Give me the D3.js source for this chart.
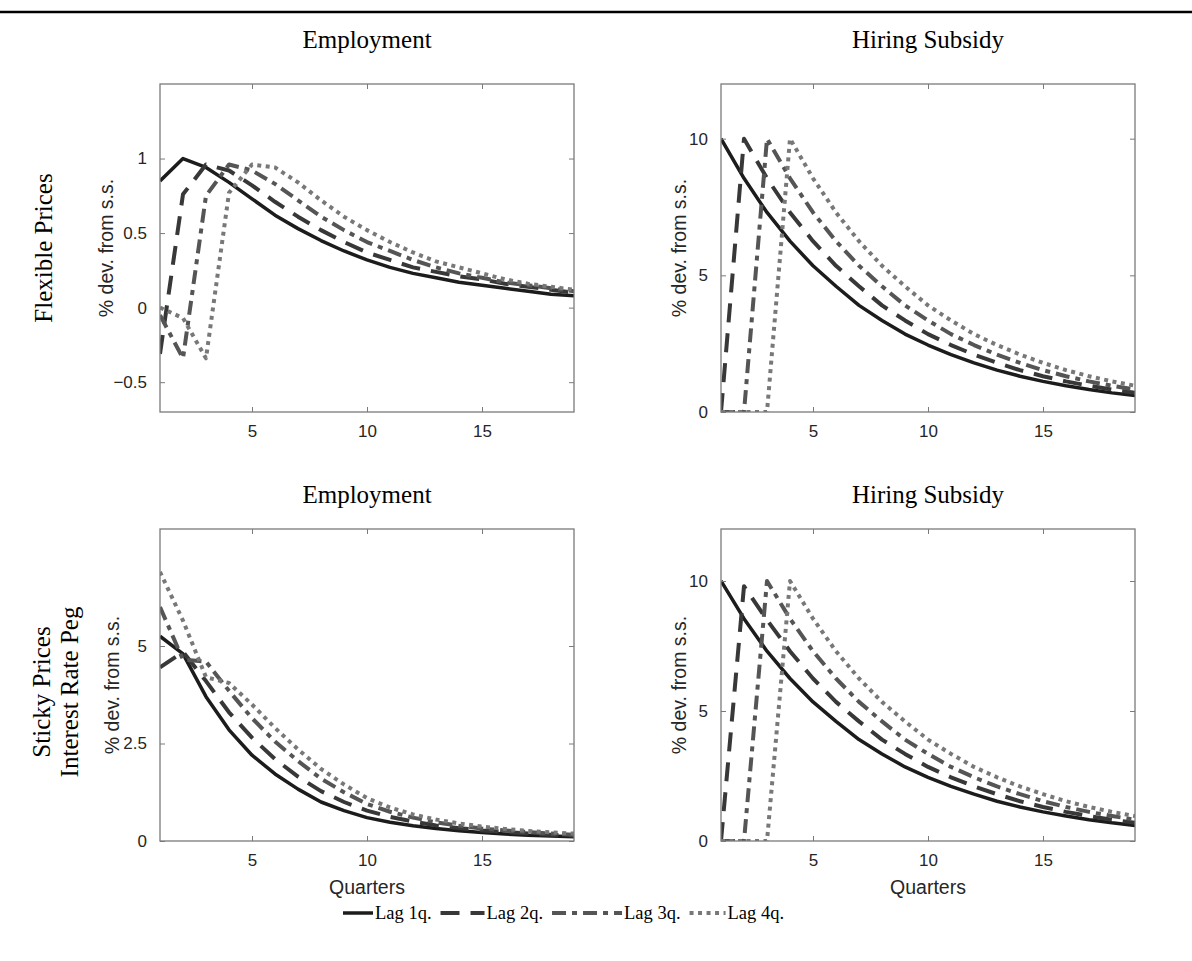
<!DOCTYPE html>
<html>
<head>
<meta charset="utf-8">
<script src="https://cdn.jsdelivr.net/npm/d3@7"></script>
<style>
  body { margin: 0; background: #fff; }
  svg { display: block; }
</style>
</head>
<body>
<div id="chart"></div>
<script>
// quarters on the x axis
var quarters = [1, 2, 3, 4, 5, 6, 7, 8, 9, 10, 11, 12, 13, 14, 15, 16, 17, 18, 19];
var xTicks = [5, 10, 15];

var seriesNames = ["Lag 1q.", "Lag 2q.", "Lag 3q.", "Lag 4q."];
var colTitles = ["Employment", "Hiring Subsidy"];

// flexible prices, employment
var empFlexLag1 = [0.85, 1.00, 0.94, 0.84, 0.73, 0.62, 0.53, 0.45, 0.38, 0.32, 0.27, 0.23, 0.20, 0.17, 0.15, 0.13, 0.11, 0.09, 0.08];
var empFlexLag2 = [-0.31, 0.76, 0.96, 0.92, 0.82, 0.71, 0.61, 0.52, 0.44, 0.37, 0.32, 0.27, 0.24, 0.21, 0.19, 0.16, 0.14, 0.12, 0.10];
var empFlexLag3 = [-0.05, -0.34, 0.75, 0.96, 0.92, 0.83, 0.72, 0.61, 0.52, 0.44, 0.38, 0.32, 0.27, 0.23, 0.20, 0.17, 0.15, 0.13, 0.11];
var empFlexLag4 = [0.00, -0.07, -0.34, 0.77, 0.96, 0.94, 0.84, 0.72, 0.61, 0.52, 0.44, 0.37, 0.31, 0.27, 0.23, 0.19, 0.16, 0.14, 0.12];

// flexible prices, hiring subsidy
var subFlexLag1 = [10, 8.55, 7.3, 6.25, 5.35, 4.6, 3.9, 3.35, 2.85, 2.45, 2.1, 1.8, 1.53, 1.31, 1.12, 0.96, 0.82, 0.70, 0.60];
var subFlexLag2 = [0, 10, 8.55, 7.3, 6.25, 5.35, 4.6, 3.9, 3.35, 2.85, 2.45, 2.1, 1.8, 1.53, 1.31, 1.12, 0.96, 0.82, 0.70];
var subFlexLag3 = [0, 0, 10, 8.55, 7.3, 6.25, 5.35, 4.6, 3.9, 3.35, 2.85, 2.45, 2.1, 1.8, 1.53, 1.31, 1.12, 0.96, 0.82];
var subFlexLag4 = [0, 0, 0, 10, 8.55, 7.3, 6.25, 5.35, 4.6, 3.9, 3.35, 2.85, 2.45, 2.1, 1.8, 1.53, 1.31, 1.12, 0.96];

// sticky prices with interest rate peg, employment
var empStickyLag1 = [5.25, 4.8, 3.7, 2.85, 2.2, 1.72, 1.33, 1.0, 0.78, 0.6, 0.48, 0.39, 0.32, 0.26, 0.22, 0.18, 0.15, 0.13, 0.11];
var empStickyLag2 = [4.45, 4.85, 4.1, 3.3, 2.65, 2.1, 1.65, 1.28, 1.0, 0.78, 0.62, 0.5, 0.4, 0.33, 0.27, 0.23, 0.19, 0.16, 0.14];
var empStickyLag3 = [6.0, 4.65, 4.6, 3.85, 3.15, 2.55, 2.05, 1.6, 1.25, 0.95, 0.75, 0.6, 0.48, 0.39, 0.32, 0.27, 0.23, 0.19, 0.16];
var empStickyLag4 = [6.9, 5.65, 4.2, 4.05, 3.5, 2.9, 2.35, 1.85, 1.45, 1.1, 0.86, 0.68, 0.55, 0.45, 0.37, 0.31, 0.26, 0.22, 0.19];

// sticky prices with interest rate peg, hiring subsidy
var subStickyLag1 = [10, 8.55, 7.3, 6.25, 5.35, 4.6, 3.9, 3.35, 2.85, 2.45, 2.1, 1.8, 1.53, 1.31, 1.12, 0.96, 0.82, 0.70, 0.60];
var subStickyLag2 = [0, 9.8, 8.5, 7.3, 6.25, 5.35, 4.6, 3.9, 3.35, 2.85, 2.45, 2.1, 1.8, 1.53, 1.31, 1.12, 0.96, 0.82, 0.70];
var subStickyLag3 = [0, 0, 10, 8.55, 7.3, 6.25, 5.35, 4.6, 3.9, 3.35, 2.85, 2.45, 2.1, 1.8, 1.53, 1.31, 1.12, 0.96, 0.82];
var subStickyLag4 = [0, 0, 0, 10, 8.55, 7.3, 6.25, 5.35, 4.6, 3.9, 3.35, 2.85, 2.45, 2.1, 1.8, 1.53, 1.31, 1.12, 0.96];

var width = 1192, height = 961;

var lineStyles = [
  {color: "#1c1c1c", width: 3.5, dash: null},
  {color: "#383838", width: 4, dash: "19,11"},
  {color: "#555555", width: 4, dash: "14,6,5,6"},
  {color: "#787878", width: 4, dash: "4,4.5"}
];

var panels = [
  {x0: 160, x1: 574, y0: 84, y1: 412, domain: [-0.7, 1.5], ticks: [-0.5, 0, 0.5, 1], labX: 113, titleY: 48,
   title: colTitles[0], series: [empFlexLag1, empFlexLag2, empFlexLag3, empFlexLag4], xlabel: false},
  {x0: 721, x1: 1135, y0: 84, y1: 412, domain: [0, 12], ticks: [0, 5, 10], labX: 686, titleY: 48,
   title: colTitles[1], series: [subFlexLag1, subFlexLag2, subFlexLag3, subFlexLag4], xlabel: false},
  {x0: 160, x1: 574, y0: 529, y1: 841, domain: [0, 8], ticks: [0, 2.5, 5], labX: 119, titleY: 503,
   title: colTitles[0], series: [empStickyLag1, empStickyLag2, empStickyLag3, empStickyLag4], xlabel: true},
  {x0: 721, x1: 1135, y0: 529, y1: 841, domain: [0, 12], ticks: [0, 5, 10], labX: 686, titleY: 503,
   title: colTitles[1], series: [subStickyLag1, subStickyLag2, subStickyLag3, subStickyLag4], xlabel: true}
];

var svg = d3.select("#chart").append("svg")
    .attr("width", width)
    .attr("height", height);

// thick rule along the top
svg.append("line")
    .attr("x1", 0).attr("x2", width)
    .attr("y1", 12).attr("y2", 12)
    .attr("stroke", "#000")
    .attr("stroke-width", 2.5);

var sans = "'Liberation Sans', Arial, sans-serif",
    serif = "'Liberation Serif', 'Times New Roman', serif";

panels.forEach(function(p, i) {
  var x = d3.scaleLinear().domain([1, 19]).range([p.x0, p.x1]),
      y = d3.scaleLinear().domain(p.domain).range([p.y1, p.y0]);

  var g = svg.append("g");

  g.append("clipPath").attr("id", "clip" + i)
    .append("rect")
    .attr("x", p.x0).attr("y", p.y0)
    .attr("width", p.x1 - p.x0).attr("height", p.y1 - p.y0);

  var line = d3.line()
      .x(function(d) { return x(d.q); })
      .y(function(d) { return y(d.v); });

  p.series.forEach(function(vals, k) {
    var pts = quarters.map(function(q, j) { return {q: q, v: vals[j]}; });
    var st = lineStyles[k];
    g.append("path")
      .attr("clip-path", "url(#clip" + i + ")")
      .attr("d", line(pts))
      .attr("fill", "none")
      .attr("stroke", st.color)
      .attr("stroke-width", st.width)
      .attr("stroke-dasharray", st.dash)
      .attr("stroke-linejoin", "round");
  });

  // axes, ticks pointing inward like the original
  var bottom = g.append("g")
      .attr("transform", "translate(0," + p.y1 + ")")
      .call(d3.axisBottom(x).tickValues(xTicks).tickSize(-5).tickPadding(13));
  var left = g.append("g")
      .attr("transform", "translate(" + p.x0 + ",0)")
      .call(d3.axisLeft(y).tickValues(p.ticks).tickSize(-5).tickPadding(13).tickFormat(d3.format("")));
  var top = g.append("g")
      .attr("transform", "translate(0," + p.y0 + ")")
      .call(d3.axisTop(x).tickValues(xTicks).tickSize(-5).tickFormat(""));
  var right = g.append("g")
      .attr("transform", "translate(" + p.x1 + ",0)")
      .call(d3.axisRight(y).tickValues(p.ticks).tickSize(-5).tickFormat(""));

  [bottom, left, top, right].forEach(function(a) {
    a.select(".domain").remove();
    a.selectAll(".tick line").attr("stroke", "#7a7a7a").attr("stroke-width", 1);
    a.selectAll("text")
      .style("font-family", sans)
      .style("font-size", "17px")
      .attr("fill", "#262626");
  });

  g.append("rect")
    .attr("x", p.x0).attr("y", p.y0)
    .attr("width", p.x1 - p.x0).attr("height", p.y1 - p.y0)
    .attr("fill", "none")
    .attr("stroke", "#7a7a7a")
    .attr("stroke-width", 1.3);

  // y label
  g.append("text")
    .attr("transform", "translate(" + p.labX + "," + ((p.y0 + p.y1) / 2) + ") rotate(-90)")
    .attr("text-anchor", "middle")
    .style("font-family", sans)
    .style("font-size", "19.5px")
    .attr("fill", "#262626")
    .text("% dev. from s.s.");

  // panel title
  g.append("text")
    .attr("x", (p.x0 + p.x1) / 2)
    .attr("y", p.titleY)
    .attr("text-anchor", "middle")
    .style("font-family", serif)
    .style("font-size", "25px")
    .text(p.title);

  if (p.xlabel) {
    g.append("text")
      .attr("x", (p.x0 + p.x1) / 2)
      .attr("y", p.y1 + 53)
      .attr("text-anchor", "middle")
      .style("font-family", sans)
      .style("font-size", "19.5px")
      .attr("fill", "#262626")
      .text("Quarters");
  }
});

// row labels
svg.append("text")
    .attr("transform", "translate(52,248) rotate(-90)")
    .attr("text-anchor", "middle")
    .style("font-family", serif)
    .style("font-size", "25px")
    .text("Flexible Prices");

svg.append("text")
    .attr("transform", "translate(50,692) rotate(-90)")
    .attr("text-anchor", "middle")
    .style("font-family", serif)
    .style("font-size", "25px")
    .text("Sticky Prices");

svg.append("text")
    .attr("transform", "translate(78,692) rotate(-90)")
    .attr("text-anchor", "middle")
    .style("font-family", serif)
    .style("font-size", "25px")
    .text("Interest Rate Peg");

// legend
var sampleLen = [30, 44, 70, 36];
var legend = svg.append("g").attr("transform", "translate(0,913)");
var lx = 343;
seriesNames.forEach(function(name, k) {
  var st = lineStyles[k];
  legend.append("line")
    .attr("x1", lx).attr("x2", lx + sampleLen[k])
    .attr("y1", 0).attr("y2", 0)
    .attr("stroke", st.color)
    .attr("stroke-width", st.width)
    .attr("stroke-dasharray", st.dash);
  var t = legend.append("text")
    .attr("x", lx + sampleLen[k] + 2)
    .attr("y", 6)
    .style("font-family", serif)
    .style("font-size", "18.5px")
    .text(name);
  lx += sampleLen[k] + 2 + t.node().getComputedTextLength() + 9;
});
</script>
</body>
</html>
